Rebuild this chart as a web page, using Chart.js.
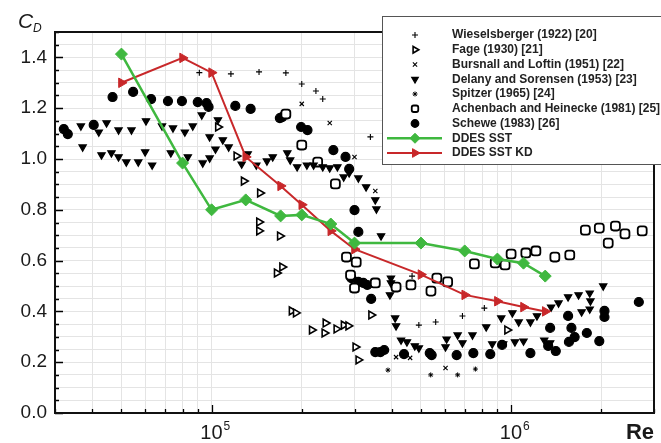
<!DOCTYPE html>
<html>
<head>
<meta charset="utf-8">
<script src="https://cdn.jsdelivr.net/npm/chart.js@4.4.0/dist/chart.umd.min.js"></script>
<style>
  html, body { margin: 0; padding: 0; background: #fff; }
</style>
</head>
<body>
<canvas id="myChart" width="661" height="443"></canvas>
<script>
// experimental data, [Re, Cd]
const wieselsberger = [[9.1e4,1.34],[1.16e5,1.335],[1.44e5,1.343],[1.77e5,1.339],[2.0e5,1.295],[2.23e5,1.268],[2.35e5,1.236],[3.39e5,1.087],[4.67e5,0.539],[4.92e5,0.346],[5.6e5,0.358],[6.88e5,0.382],[8.14e5,0.413]];
const fage = [[1.05e5,1.126],[1.21e5,1.012],[1.28e5,0.913],[1.45e5,0.866],[1.44e5,0.752],[1.44e5,0.717],[1.69e5,0.697],[1.65e5,0.551],[1.72e5,0.575],[1.85e5,0.402],[1.91e5,0.394],[2.16e5,0.327],[2.38e5,0.315],[2.4e5,0.354],[2.61e5,0.331],[2.76e5,0.346],[2.86e5,0.343],[3.41e5,0.386],[3.02e5,0.26],[3.09e5,0.209],[9.7e5,0.327]];
const bursnall = [[2.0e5,1.217],[2.48e5,1.142],[3.0e5,1.008],[3.52e5,0.874],[4.13e5,0.22],[4.6e5,0.217],[6.04e5,0.177]];
const delany = [[3.66e4,1.13],[3.71e4,1.047],[4.2e4,1.106],[4.29e4,1.016],[4.46e4,1.142],[4.63e4,1.024],[4.89e4,1.008],[4.89e4,1.114],[5.19e4,0.988],[5.4e4,1.114],[5.69e4,0.988],[6.0e4,1.028],[6.04e4,1.15],[6.33e4,0.976],[6.83e4,1.13],[7.31e4,1.024],[7.43e4,1.122],[8.14e4,1.106],[8.33e4,1.008],[8.65e4,1.13],[9.27e4,1.173],[9.34e4,0.984],[9.85e4,1.087],[9.85e4,1.004],[1.03e5,1.039],[1.05e5,1.154],[1.09e5,1.075],[1.14e5,1.047],[1.26e5,0.98],[1.32e5,1.02],[1.41e5,0.976],[1.53e5,0.992],[1.6e5,1.008],[1.79e5,1.024],[1.83e5,0.996],[1.93e5,0.969],[2.08e5,0.976],[2.19e5,0.976],[2.35e5,0.969],[2.48e5,0.965],[2.63e5,0.969],[2.76e5,0.929],[2.88e5,0.945],[3.09e5,0.925],[3.28e5,0.89],[3.52e5,0.839],[3.55e5,0.803],[3.68e5,0.697],[3.97e5,0.531],[3.97e5,0.512],[3.94e5,0.465],[4.1e5,0.374],[4.13e5,0.343],[4.29e5,0.287],[4.49e5,0.28],[4.77e5,0.264],[4.92e5,0.256],[6.04e5,0.26],[6.09e5,0.291],[6.63e5,0.307],[6.88e5,0.276],[7.43e5,0.307],[8.26e5,0.339],[8.65e5,0.272],[9.27e5,0.374],[9.41e5,0.272],[1.01e6,0.394],[1.03e6,0.28],[1.06e6,0.358],[1.1e6,0.283],[1.16e6,0.358],[1.22e6,0.382],[1.29e6,0.287],[1.35e6,0.276],[1.36e6,0.417],[1.44e6,0.433],[1.55e6,0.457],[1.68e6,0.465],[1.72e6,0.398],[1.83e6,0.472],[1.84e6,0.441],[1.83e6,0.409],[2.03e6,0.5]];
const spitzer = [[3.88e5,0.169],[5.39e5,0.15],[6.63e5,0.15],[7.6e5,0.173]];
const achenbach = [[1.77e5,1.177],[2.0e5,1.055],[2.26e5,0.988],[2.59e5,0.902],[2.82e5,0.614],[3.04e5,0.594],[2.91e5,0.543],[3.0e5,0.492],[3.52e5,0.512],[4.13e5,0.496],[4.63e5,0.504],[5.4e5,0.48],[5.65e5,0.531],[6.14e5,0.516],[7.54e5,0.587],[8.85e5,0.591],[9.55e5,0.583],[1.0e6,0.626],[1.12e6,0.63],[1.21e6,0.638],[1.4e6,0.614],[1.57e6,0.622],[1.77e6,0.72],[1.97e6,0.728],[2.11e6,0.669],[2.23e6,0.736],[2.4e6,0.705],[2.74e6,0.717]];
const schewe = [[3.21e4,1.118],[3.31e4,1.098],[4.04e4,1.134],[4.67e4,1.244],[5.47e4,1.264],[6.28e4,1.236],[7.15e4,1.228],[7.96e4,1.228],[8.99e4,1.224],[9.62e4,1.22],[9.77e4,1.205],[1.2e5,1.209],[1.35e5,1.197],[1.69e5,1.161],[1.72e5,1.165],[1.99e5,1.126],[2.09e5,1.114],[2.55e5,1.035],[2.8e5,1.008],[2.88e5,0.961],[3.0e5,0.799],[3.09e5,0.713],[2.93e5,0.531],[3.09e5,0.516],[3.21e5,0.512],[3.31e5,0.504],[3.41e5,0.449],[3.52e5,0.24],[3.66e5,0.24],[3.77e5,0.248],[4.39e5,0.232],[5.35e5,0.236],[5.43e5,0.228],[6.58e5,0.228],[7.48e5,0.236],[8.52e5,0.232],[9.33e5,0.268],[1.16e6,0.236],[1.33e6,0.264],[1.35e6,0.335],[1.41e6,0.244],[1.55e6,0.382],[1.56e6,0.28],[1.59e6,0.335],[1.63e6,0.299],[1.79e6,0.315],[1.97e6,0.283],[2.05e6,0.402],[2.05e6,0.378],[2.67e6,0.437]];

// simulations
const ddesRe = [5e4, 8e4, 1e5, 1.3e5, 1.7e5, 2e5, 2.5e5, 3e5, 5e5, 7e5, 9e5, 1.1e6, 1.3e6];
const ddesSst = [1.413, 0.984, 0.80, 0.839, 0.776, 0.78, 0.744, 0.669, 0.669, 0.638, 0.606, 0.59, 0.539];
const ddesSstKd = [1.30, 1.398, 1.34, 1.008, 0.894, 0.82, 0.717, 0.645, 0.545, 0.465, 0.44, 0.417, 0.40];

// axes
const xGrid = [3e4,4e4,5e4,6e4,7e4,8e4,9e4,1e5,2e5,3e5,4e5,5e5,6e5,7e5,8e5,9e5,1e6,2e6,3e6];
const xMajor = [1e5, 1e6];
const xMajorExp = ['5', '6'];

const pts = arr => arr.map(p => ({ x: p[0], y: p[1] }));
const zip = (xs, ys) => xs.map((x, i) => ({ x: x, y: ys[i] }));

const GREEN = '#3fb83f';
const RED = '#c8282a';

function scatterSet(label, data, style, r, opts) {
  return Object.assign({
    label: label,
    data: pts(data),
    showLine: false,
    pointStyle: style,
    pointRadius: r,
    pointBorderColor: '#000',
    pointBackgroundColor: '#000',
    pointBorderWidth: 1.2,
    pointRotation: 0,
    order: 1
  }, opts || {});
}

const datasets = [
  scatterSet('Wieselsberger (1922) [20]', wieselsberger, 'cross', 3, { pointBorderWidth: 1.1 }),
  scatterSet('Fage (1930) [21]', fage, 'triangle', 4.5, { pointRotation: 90, pointBackgroundColor: '#fff', pointBorderWidth: 1.6 }),
  scatterSet('Bursnall and Loftin (1951) [22]', bursnall, 'crossRot', 3, { pointBorderWidth: 1.1 }),
  scatterSet('Delany and Sorensen (1953) [23]', delany, 'triangle', 4.2, { pointRotation: 180 }),
  scatterSet('Spitzer (1965) [24]', spitzer, 'star', 2.5, { pointBorderWidth: 1 }),
  scatterSet('Achenbach and Heinecke (1981) [25]', achenbach, 'rectRounded', 5.2, { pointBackgroundColor: '#fff', pointBorderWidth: 1.8 }),
  scatterSet('Schewe (1983) [26]', schewe, 'circle', 4.5),
  {
    label: 'DDES SST', data: zip(ddesRe, ddesSst), showLine: true,
    borderColor: GREEN, borderWidth: 2.5, pointStyle: 'rectRot', pointRadius: 6,
    pointBackgroundColor: GREEN, pointBorderColor: GREEN, pointBorderWidth: 1, pointRotation: 0, order: 0
  },
  {
    label: 'DDES SST KD', data: zip(ddesRe, ddesSstKd), showLine: true,
    borderColor: RED, borderWidth: 2, pointStyle: 'triangle', pointRadius: 5.5,
    pointBackgroundColor: RED, pointBorderColor: RED, pointBorderWidth: 1, pointRotation: 90, order: 0
  }
];

function drawMarker(ctx, ds, x, y) {
  ctx.save();
  ctx.fillStyle = ds.pointBackgroundColor;
  ctx.strokeStyle = ds.pointBorderColor;
  ctx.lineWidth = ds.pointBorderWidth;
  Chart.helpers.drawPoint(ctx, {
    pointStyle: ds.pointStyle, radius: ds.pointRadius,
    rotation: ds.pointRotation, borderWidth: ds.pointBorderWidth
  }, x, y);
  ctx.restore();
}

const decorations = {
  id: 'decorations',
  afterDraw(chart) {
    const ctx = chart.ctx;
    const a = chart.chartArea;
    const xs = chart.scales.x, ys = chart.scales.y;
    ctx.save();

    // inward tick marks
    ctx.strokeStyle = '#000';
    ctx.lineWidth = 1.3;
    ctx.beginPath();
    for (let i = 0; i <= 30; i++) {
      const v = i * 0.05;
      const py = Math.round(ys.getPixelForValue(v)) + 0.5;
      const len = (i % 4 === 0) ? 8 : 4;
      ctx.moveTo(a.left, py); ctx.lineTo(a.left + len, py);
    }
    xGrid.forEach(v => {
      const px = Math.round(xs.getPixelForValue(v)) + 0.5;
      const len = xMajor.includes(v) ? 8 : 4;
      ctx.moveTo(px, a.bottom); ctx.lineTo(px, a.bottom - len);
    });
    ctx.stroke();

    // frame
    ctx.lineWidth = 2;
    ctx.strokeStyle = '#111';
    ctx.strokeRect(a.left, a.top, a.right - a.left, a.bottom - a.top);

    // x tick labels 10^n
    ctx.fillStyle = '#1a1a1a';
    ctx.textBaseline = 'alphabetic';
    xMajor.forEach((v, i) => {
      const px = xs.getPixelForValue(v);
      ctx.font = '20px Arial, "Liberation Sans", sans-serif';
      ctx.textAlign = 'right';
      ctx.fillText('10', px + 11, 439);
      ctx.font = '12px Arial, "Liberation Sans", sans-serif';
      ctx.textAlign = 'left';
      ctx.fillText(xMajorExp[i], px + 12, 430);
    });

    // axis titles
    ctx.font = 'bold 22px Arial, "Liberation Sans", sans-serif';
    ctx.textAlign = 'right';
    ctx.fillText('Re', 654, 439);
    ctx.font = 'italic 21px Arial, "Liberation Sans", sans-serif';
    ctx.textAlign = 'left';
    ctx.fillText('C', 18, 28);
    ctx.font = 'italic 12px Arial, "Liberation Sans", sans-serif';
    ctx.fillText('D', 33, 32);

    // legend box
    const bx = 382, by = 16, bw = 300, bh = 148;
    ctx.fillStyle = '#fff';
    ctx.fillRect(bx, by, bw, bh);
    ctx.lineWidth = 1;
    ctx.strokeStyle = '#555';
    ctx.strokeRect(bx + 0.5, by + 0.5, bw, bh);

    chart.data.datasets.forEach((ds, i) => {
      const ly = 35 + i * 14.75;
      if (ds.showLine) {
        ctx.strokeStyle = ds.borderColor;
        ctx.lineWidth = ds.borderWidth;
        ctx.beginPath();
        ctx.moveTo(387, ly); ctx.lineTo(442, ly);
        ctx.stroke();
        drawMarker(ctx, Object.assign({}, ds, { pointRadius: 5 }), 415, ly);
      } else {
        drawMarker(ctx, Object.assign({}, ds, { pointRadius: Math.min(ds.pointRadius, 3.8) }), 415, ly);
      }
      ctx.fillStyle = '#222';
      ctx.font = 'bold 12px Arial, "Liberation Sans", sans-serif';
      ctx.textAlign = 'left';
      ctx.textBaseline = 'middle';
      ctx.fillText(ds.label, 452, ly);
    });

    ctx.restore();
  }
};

const ctx = document.getElementById('myChart').getContext('2d');
new Chart(ctx, {
  type: 'scatter',
  data: { datasets: datasets },
  options: {
    responsive: false,
    animation: false,
    devicePixelRatio: 1,
    layout: { padding: { top: 32, right: 3, left: 0, bottom: 0 } },
    plugins: { legend: { display: false }, tooltip: { enabled: false } },
    scales: {
      x: {
        type: 'logarithmic',
        min: 3e4,
        max: 3e6,
        afterBuildTicks: s => { s.ticks = xGrid.map(v => ({ value: v })); },
        afterFit: s => { s.height = 30; },
        ticks: { display: false },
        grid: { color: '#e4e4e4', drawTicks: false },
        border: { display: false }
      },
      y: {
        min: 0,
        max: 1.5,
        afterFit: s => { s.width = 55; },
        ticks: {
          stepSize: 0.05,
          autoSkip: false,
          padding: 8,
          color: '#1a1a1a',
          font: { family: 'Arial, "Liberation Sans", sans-serif', size: 19 },
          callback: v => {
            const r = Math.round(v * 100);
            return r % 20 === 0 ? (r / 100).toFixed(1) : '';
          }
        },
        grid: { color: '#e4e4e4', drawTicks: false },
        border: { display: false }
      }
    }
  },
  plugins: [decorations]
});
</script>
</body>
</html>
